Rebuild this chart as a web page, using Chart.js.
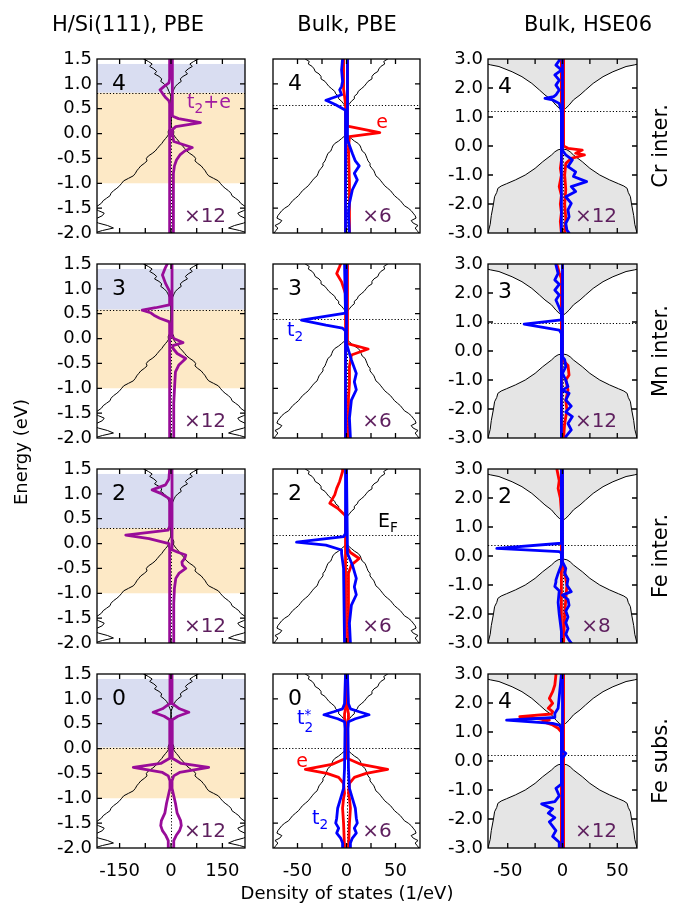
<!DOCTYPE html>
<html>
<head>
<meta charset="utf-8">
<title>DOS</title>
<script src="https://cdn.jsdelivr.net/npm/chart.js@4.4.1/dist/chart.umd.min.js"></script>
<style>
  body { margin: 0; background: #fff; }
  #fig { position: relative; width: 682px; height: 911px; overflow: hidden; font-family: 'DejaVu Sans', sans-serif; color: #000; }
  #fig canvas { position: absolute; }
  .t { position: absolute; white-space: nowrap; line-height: 1; transform: translate(-50%, -50%); }
  .rot { transform: translate(-50%, -50%) rotate(-90deg); }
  .t sub { font-size: 0.72em; vertical-align: -0.35em; }
  .ss { display: inline-block; vertical-align: -0.55em; font-size: 0.72em; line-height: 0.9; text-align: left; }
  .ss span { display: block; }
</style>
</head>
<body>
<div id="fig"></div>
<script>
// pairs are [energy (eV), DOS (1/eV)]; left side of a panel = spin down
var hostSi = [[-2.0,225],[-1.95,200],[-1.9,168],[-1.85,185],[-1.8,212],[-1.75,228],[-1.7,215],[-1.65,200],[-1.6,195],[-1.55,212],[-1.5,225],[-1.45,213],[-1.4,203],[-1.35,198],[-1.3,188],[-1.25,178],[-1.2,175],[-1.15,168],[-1.1,158],[-1.05,150],[-1.0,144],[-0.95,138],[-0.9,124],[-0.85,110],[-0.8,104],[-0.75,100],[-0.7,94],[-0.65,88],[-0.6,78],[-0.55,70],[-0.5,72],[-0.45,66],[-0.4,55],[-0.35,46],[-0.3,40],[-0.25,34],[-0.2,27],[-0.15,22],[-0.1,16],[-0.05,10],[0.0,6],[0.05,8],[0.1,4],[0.15,0],
  [0.75,0],[0.8,3],[0.85,6],[0.9,9],[0.95,13],[1.0,20],[1.05,30],[1.1,27],[1.15,35],[1.2,48],[1.25,42],[1.3,50],[1.35,62],[1.4,55],[1.45,66],[1.5,80]];
var hostPbe = [[-2.0,74],[-1.95,72],[-1.9,70],[-1.85,73],[-1.8,68],[-1.75,66],[-1.7,71],[-1.65,70],[-1.6,68],[-1.55,66],[-1.5,63],[-1.45,59],[-1.4,57],[-1.35,55],[-1.3,52],[-1.25,49],[-1.2,47],[-1.15,45],[-1.1,42],[-1.05,39],[-1.0,37],[-0.95,35],[-0.9,33],[-0.85,30],[-0.8,29],[-0.75,28],[-0.7,26],[-0.65,24],[-0.6,24],[-0.55,22],[-0.5,21],[-0.45,20],[-0.4,19],[-0.35,16],[-0.3,15],[-0.25,14],[-0.2,12],[-0.15,8],[-0.1,5],[-0.05,2],[0.0,0],
  [0.5,0],[0.55,1],[0.6,3],[0.65,5],[0.7,8],[0.75,8],[0.8,11],[0.85,12],[0.9,15],[0.95,18],[1.0,20],[1.05,22],[1.1,26],[1.15,26],[1.2,28],[1.25,32],[1.3,33],[1.35,35],[1.4,39],[1.45,38],[1.5,42]];
var hostHse = [[-3.0,68],[-2.7,66],[-2.4,65],[-2.0,63],[-1.75,62],[-1.6,60],[-1.46,59],[-1.38,56],[-1.3,51],[-1.17,43],[-1.0,34],[-0.77,25],[-0.54,18],[-0.31,10],[-0.2,7],[-0.13,4],[-0.1,0],
  [1.22,0],[1.3,3],[1.41,6],[1.59,10],[1.76,16],[1.93,21],[2.16,28],[2.39,37],[2.56,46],[2.74,58],[2.8,66],[2.86,72],[3.0,75]];

// H/Si(111), PBE (x12)
var siCrUp = [[-2.0,6],[-1.2,6],[-0.8,8],[-0.65,10],[-0.53,16],[-0.43,26],[-0.35,40],[-0.28,62],[-0.22,35],[-0.16,8],[-0.05,5],[0.08,4],[0.14,14],[0.22,86],[0.3,22],[0.35,5],[0.5,4],[1.5,4]];
var siCrDn = [[-2.0,4],[0.6,4],[0.66,6],[0.72,15],[0.8,24],[0.88,32],[0.95,20],[1.02,6],[1.1,4],[1.5,4]];
var siMnUp = [[-2.0,7],[-1.3,8],[-0.9,11],[-0.67,13],[-0.53,23],[-0.4,43],[-0.3,18],[-0.2,6],[-0.14,5],[-0.08,35],[0.0,8],[0.05,3],[1.5,3]];
var siMnDn = [[-2.0,4],[0.3,4],[0.34,6],[0.41,33],[0.47,50],[0.52,60],[0.57,84],[0.62,45],[0.68,5],[0.8,4],[0.95,4],[1.11,16],[1.28,25],[1.4,18],[1.5,11]];
var siFeUp = [[-2.0,7],[-1.2,8],[-0.9,10],[-0.7,14],[-0.6,23],[-0.5,43],[-0.43,33],[-0.37,32],[-0.3,40],[-0.23,43],[-0.17,18],[-0.13,5],[-0.05,3],[1.5,3]];
var siFeDn = [[-2.0,4],[-0.1,4],[0.0,6],[0.1,64],[0.17,132],[0.27,8],[0.35,4],[0.9,4],[1.01,30],[1.08,55],[1.18,16],[1.3,6],[1.5,4]];
var siSub = [[-2.0,6],[-1.85,8],[-1.75,15],[-1.65,25],[-1.55,30],[-1.45,28],[-1.3,18],[-1.1,13],[-0.95,8],[-0.8,3],[-0.65,3],[-0.55,8],[-0.48,25],[-0.38,110],[-0.3,30],[-0.2,5],[0.0,3],[0.5,3],[0.58,5],[0.65,20],[0.73,52],[0.8,25],[0.9,5],[1.0,3],[1.5,3]];

// Bulk, PBE (x6)
var pbeCrEUp = [[-2.0,3],[-1.0,3],[-0.3,2],[-0.06,3],[0.02,34],[0.15,1],[1.5,1]];
var pbeCrEDn = [[-2.0,1],[0.6,1],[0.9,3],[1.5,3]];
var pbeCrT2Up = [[-2.0,3],[-1.6,2],[-1.4,3],[-1.13,6],[-0.93,11],[-0.8,8],[-0.65,13],[-0.55,9],[-0.4,6],[-0.13,1],[1.5,1]];
var pbeCrT2Dn = [[-2.0,1],[0.47,1],[0.58,11],[0.67,21],[0.78,5],[0.88,7],[0.95,5],[1.05,4],[1.28,5],[1.5,4]];
var pbeMnEUp = [[-2.0,2],[-1.2,2],[-0.9,3],[-0.56,3],[-0.33,5],[-0.21,22],[-0.1,1],[1.5,1]];
var pbeMnEDn = [[-2.0,1],[0.9,1],[1.14,5],[1.31,10],[1.45,7],[1.5,6]];
var pbeMnT2Up = [[-2.0,4],[-1.6,3],[-1.24,5],[-1.03,10],[-0.87,8],[-0.7,10],[-0.43,5],[-0.1,0],[1.5,0]];
var pbeMnT2Dn = [[-2.0,1],[0.15,1],[0.21,4],[0.27,21],[0.37,46],[0.51,1],[1.5,2]];
var pbeFeEUp = [[-2.0,2],[-1.0,2],[-0.6,2],[-0.43,5],[-0.3,13],[-0.18,4],[-0.06,0],[1.5,0]];
var pbeFeEDn = [[-2.0,1],[0.55,1],[0.58,2],[0.71,9],[0.81,17],[0.98,12],[1.11,10],[1.25,7],[1.45,4],[1.5,4]];
var pbeFeT2Up = [[-2.0,4],[-1.6,3],[-1.24,5],[-1.03,10],[-0.87,8],[-0.7,10],[-0.43,6],[-0.2,1],[1.5,0]];
var pbeFeT2Dn = [[-2.0,2],[-0.5,3],[-0.2,5],[-0.13,5],[-0.03,21],[0.03,51],[0.14,3],[0.2,1],[1.5,1]];
var pbeSubE = [[-2.0,2],[-1.5,3],[-1.2,4],[-1.0,3],[-0.9,2],[-0.7,3],[-0.58,8],[-0.5,20],[-0.42,42],[-0.32,15],[-0.2,1],[0.5,1],[0.62,2],[0.7,2],[0.8,1],[1.5,1]];
var pbeSubT2 = [[-2.0,4],[-1.9,4],[-1.8,6],[-1.7,10],[-1.6,8],[-1.5,11],[-1.4,10],[-1.2,9],[-1.0,6],[-0.8,3],[-0.4,2],[0.4,1.5],[0.54,2],[0.6,9],[0.68,23],[0.74,13],[0.8,4],[0.9,2],[1.5,1]];

// Bulk, HSE06 (x12, x8)
var hseCrT2Up = [[-3.0,6],[-2.9,4],[-2.67,3],[-2.44,6],[-2.2,5],[-1.98,8],[-1.75,3],[-1.57,12],[-1.4,8],[-1.23,22],[-1.05,10],[-0.89,12],[-0.71,5],[-0.48,9],[-0.31,3],[-0.15,0],[3.0,0]];
var hseCrT2Dn = [[-3.0,1],[1.2,1],[1.47,3],[1.59,9],[1.64,16],[1.7,8],[1.76,6],[1.93,3],[2.1,6],[2.27,3],[2.45,7],[2.62,1],[2.79,6],[2.95,3],[3.0,3]];
var hseCrEUp = [[-3.0,2],[-2.5,3],[-2.0,2],[-1.5,3],[-1.0,2],[-0.6,3],[-0.43,8],[-0.31,20],[-0.25,12],[-0.14,18],[-0.08,5],[0.0,1],[3.0,1]];
var hseCrEDn = [[-3.0,1],[-2.6,2],[-2.3,1],[-2.0,2],[-1.7,1],[-1.4,3],[-1.0,1],[-0.77,2],[-0.5,1],[3.0,1]];
var hseMnT2Up = [[-3.0,3],[-2.95,3],[-2.72,8],[-2.5,5],[-2.26,9],[-2.1,3],[-1.9,8],[-1.69,3],[-1.46,6],[-1.35,0],[-1.23,5],[-1.0,3],[-0.77,0],[-0.54,3],[-0.3,2],[-0.2,0],[3.0,0]];
var hseMnT2Dn = [[-3.0,1],[0.6,1],[0.72,3],[0.93,35],[1.07,1],[1.3,1],[1.5,3],[1.76,6],[1.93,3],[2.1,7],[2.3,3],[2.45,7],[2.68,4],[2.97,6],[3.0,6]];
var hseMnEUp = [[-3.0,1],[-2.5,2],[-2.05,4],[-1.7,3],[-1.35,5],[-1.0,3],[-0.83,6],[-0.5,5],[-0.3,0],[3.0,0]];
var hseMnEDn = [[-3.0,1],[2.5,1],[2.7,3],[2.97,5],[3.0,5]];
var hseFeT2Up = [[-3.0,8],[-2.9,6],[-2.7,3],[-2.5,5],[-2.3,3],[-2.1,5],[-1.9,3],[-1.7,6],[-1.5,5],[-1.35,0],[-1.23,8],[-1.0,4],[-0.8,5],[-0.6,2],[-0.43,3],[-0.2,0],[3.0,0]];
var hseFeT2Dn = [[-3.0,1],[-2.6,1],[-2.0,3],[-1.6,4],[-1.2,3],[-1.05,7],[-0.9,6],[-0.83,6],[-0.6,4],[-0.3,1],[0.1,1],[0.15,3],[0.26,60],[0.44,1],[3.0,1]];
var hseFeEUp = [[-3.0,1],[-2.0,2],[-1.5,3],[-1.0,4],[-0.8,3],[-0.5,2],[-0.3,0],[3.0,0]];
var hseFeEDn = [[-3.0,1],[1.5,1],[2.0,2],[2.33,4],[2.6,3],[2.97,5],[3.0,5]];
var hseSubT2Up = [[-3.0,0],[0.1,0],[0.26,3],[0.35,0],[3.0,0]];
var hseSubT2Dn = [[-3.0,3],[-2.8,3],[-2.6,9],[-2.4,6],[-2.1,12],[-1.95,7],[-1.8,13],[-1.65,9],[-1.48,19],[-1.4,7],[-1.2,3],[-0.94,6],[-0.8,1],[1.13,1],[1.24,3],[1.3,9],[1.41,51],[1.5,7],[1.64,7],[1.82,4],[2.2,3],[3.0,1]];
var hseSubEUp = [[-3.0,1],[3.0,1]];
var hseSubEDn = [[-3.0,1],[1.0,1],[1.13,4],[1.24,9],[1.36,18],[1.41,12],[1.53,39],[1.62,10],[1.7,9],[1.82,13],[1.99,9],[2.16,12],[2.39,9],[2.62,7],[2.97,6],[3.0,6]];

// Fermi levels per row, shaded band limits in the H/Si column
var efSi = [0.82, 0.58, 0.31, 0.02];
var efPbe = [0.57, 0.39, 0.18, 0.02];
var efHse = [1.2, 0.95, 0.38, 0.22];
var bandTop = 1.4, bandBottom = -1.0;

var charges = [[4, 4, 4], [3, 3, 3], [2, 2, 2], [0, 0, 4]];
var factors = [[12, 6, 12], [12, 6, 12], [12, 6, 8], [12, 6, 12]];
var rowNames = ['Cr inter.', 'Mn inter.', 'Fe inter.', 'Fe subs.'];
var colTitles = ['H/Si(111), PBE', 'Bulk, PBE', 'Bulk, HSE06'];
var xTicks = [[-150, -75, 0, 75, 150], [-50, -25, 0, 25, 50], [-50, -25, 0, 25, 50]];
var xTickLabels = [[-150, 0, 150], [-50, 0, 50], [-50, 0, 50]];
var yTicks = [[-2, -1.5, -1, -0.5, 0, 0.5, 1, 1.5], [-2, -1.5, -1, -0.5, 0, 0.5, 1, 1.5], [-3, -2, -1, 0, 1, 2, 3]];
var xRange = [[-216, 216], [-75, 75], [-68, 68]];
var yRange = [[-2, 1.5], [-2, 1.5], [-3, 3]];

var siRows = [[siCrUp, siCrDn], [siMnUp, siMnDn], [siFeUp, siFeDn], [siSub, siSub]];
var pbeRows = [[pbeCrT2Up, pbeCrT2Dn, pbeCrEUp, pbeCrEDn], [pbeMnT2Up, pbeMnT2Dn, pbeMnEUp, pbeMnEDn],
  [pbeFeT2Up, pbeFeT2Dn, pbeFeEUp, pbeFeEDn], [pbeSubT2, pbeSubT2, pbeSubE, pbeSubE]];
var hseRows = [[hseCrT2Up, hseCrT2Dn, hseCrEUp, hseCrEDn], [hseMnT2Up, hseMnT2Dn, hseMnEUp, hseMnEDn],
  [hseFeT2Up, hseFeT2Dn, hseFeEUp, hseFeEDn], [hseSubT2Up, hseSubT2Dn, hseSubEUp, hseSubEDn]];

var PURPLE = '#990c99', RED = '#ff0000', BLUE = '#0000ff', DARKP = '#5e1f5e';
var colLeft = [97, 273, 488], colW = [148, 147, 149];
var rowTop = [59, 264, 469, 674], rowH = 174;
var fig = document.getElementById('fig');

Chart.defaults.font.family = "'DejaVu Sans', sans-serif";
Chart.defaults.color = '#000';

function pts(arr, s) {
  return arr.map(function (p) { return {x: s * p[1], y: p[0]}; });
}
function ln(arr, s, color, w) {
  return {data: pts(arr, s), borderColor: color, borderWidth: w || 2.8, pointRadius: 0, fill: false,
    borderJoinStyle: 'round', borderCapStyle: 'round'};
}

// shaded bands, Fermi level, zero line, frame and inward ticks
var decor = {
  id: 'decor',
  beforeDatasetsDraw: function (chart, args, o) {
    var ctx = chart.ctx, a = chart.chartArea, sx = chart.scales.x, sy = chart.scales.y;
    ctx.save();
    if (o.bands) {
      var yT = sy.getPixelForValue(bandTop), yE = sy.getPixelForValue(o.ef), yB = sy.getPixelForValue(bandBottom);
      ctx.fillStyle = '#d9ddf1';
      ctx.fillRect(a.left, yT, a.right - a.left, yE - yT);
      ctx.fillStyle = '#fde9c6';
      ctx.fillRect(a.left, yE, a.right - a.left, yB - yE);
    }
    ctx.strokeStyle = '#000';
    ctx.lineWidth = 1;
    ctx.setLineDash([1.2, 2]);
    var ye = Math.round(sy.getPixelForValue(o.ef)) + 0.5;
    ctx.beginPath(); ctx.moveTo(a.left, ye); ctx.lineTo(a.right, ye); ctx.stroke();
    var x0 = Math.round(sx.getPixelForValue(0)) + 0.5;
    ctx.beginPath(); ctx.moveTo(x0, a.top); ctx.lineTo(x0, a.bottom); ctx.stroke();
    ctx.restore();
  },
  afterDraw: function (chart) {
    var ctx = chart.ctx, a = chart.chartArea, sx = chart.scales.x, sy = chart.scales.y, L = 5;
    ctx.save();
    ctx.strokeStyle = '#000';
    ctx.lineWidth = 1.3;
    ctx.beginPath();
    sy.ticks.forEach(function (t) {
      if (t.value <= sy.min || t.value >= sy.max) return;
      var y = sy.getPixelForValue(t.value);
      ctx.moveTo(a.left, y); ctx.lineTo(a.left + L, y);
      ctx.moveTo(a.right, y); ctx.lineTo(a.right - L, y);
    });
    sx.ticks.forEach(function (t) {
      if (t.value <= sx.min || t.value >= sx.max) return;
      var x = sx.getPixelForValue(t.value);
      ctx.moveTo(x, a.bottom); ctx.lineTo(x, a.bottom - L);
      ctx.moveTo(x, a.top); ctx.lineTo(x, a.top + L);
    });
    ctx.stroke();
    ctx.strokeRect(a.left, a.top, a.right - a.left, a.bottom - a.top);
    ctx.restore();
  }
};

function makePanel(r, c) {
  var ML = c === 1 ? 3 : 52, MT = 13, MR = 3, MB = r === 3 ? 40 : 13;
  var w = colW[c] + ML + MR, h = rowH + MT + MB;
  var cv = document.createElement('canvas');
  cv.width = w; cv.height = h;
  cv.style.left = (colLeft[c] - ML) + 'px';
  cv.style.top = (rowTop[r] - MT) + 'px';
  cv.style.width = w + 'px'; cv.style.height = h + 'px';
  fig.appendChild(cv);

  var sets, ef;
  if (c === 0) {
    var s = siRows[r];
    sets = [ln(s[0], 1, PURPLE), ln(s[1], -1, PURPLE), ln(hostSi, 1, '#000', 1), ln(hostSi, -1, '#000', 1)];
    ef = efSi[r];
  } else {
    var q = c === 1 ? pbeRows[r] : hseRows[r];
    var host = c === 1 ? hostPbe : hostHse;
    var hp = ln(host, 1, '#000', 1);
    if (c === 2) { hp.fill = '+1'; hp.backgroundColor = '#e5e5e5'; }
    sets = [ln(q[0], 1, BLUE), ln(q[1], -1, BLUE), ln(q[2], 1, RED), ln(q[3], -1, RED), hp, ln(host, -1, '#000', 1)];
    ef = c === 1 ? efPbe[r] : efHse[r];
  }

  new Chart(cv, {
    type: 'line',
    data: {datasets: sets},
    plugins: [decor],
    options: {
      animation: false,
      responsive: false,
      devicePixelRatio: 1,
      indexAxis: 'y',
      events: [],
      layout: {padding: {top: MT, right: MR, left: 0, bottom: 0}},
      plugins: {
        legend: {display: false},
        tooltip: {enabled: false},
        filler: {drawTime: 'beforeDatasetsDraw'},
        decor: {bands: c === 0, ef: ef}
      },
      scales: {
        x: {
          type: 'linear', position: 'bottom', min: xRange[c][0], max: xRange[c][1], bounds: 'data',
          grid: {display: false, drawTicks: false}, border: {display: false},
          afterBuildTicks: function (sc) { sc.ticks = xTicks[c].map(function (v) { return {value: v}; }); },
          ticks: {
            display: r === 3, autoSkip: false, maxRotation: 0, padding: 13,
            font: {size: 18},
            callback: function (v) { return xTickLabels[c].indexOf(v) >= 0 ? String(v) : ''; }
          },
          afterFit: function (sc) { sc.height = MB; sc.paddingLeft = 0; sc.paddingRight = 0; sc.paddingTop = 0; sc.paddingBottom = 0; }
        },
        y: {
          type: 'linear', position: 'left', min: yRange[c][0], max: yRange[c][1], bounds: 'data',
          grid: {display: false, drawTicks: false}, border: {display: false},
          afterBuildTicks: function (sc) { sc.ticks = yTicks[c].map(function (v) { return {value: v}; }); },
          ticks: {
            display: c !== 1, autoSkip: false, padding: 5,
            font: {size: 18},
            callback: function (v) { return v.toFixed(1); }
          },
          afterFit: function (sc) { sc.width = ML; sc.paddingLeft = 0; sc.paddingRight = 0; sc.paddingTop = 0; sc.paddingBottom = 0; }
        }
      }
    }
  });
}

function label(html, x, y, size, color, cls) {
  var d = document.createElement('div');
  d.className = 't' + (cls ? ' ' + cls : '');
  d.innerHTML = html;
  d.style.left = x + 'px';
  d.style.top = y + 'px';
  d.style.fontSize = size + 'px';
  if (color) d.style.color = color;
  fig.appendChild(d);
}

for (var r = 0; r < 4; r++) {
  for (var c = 0; c < 3; c++) {
    makePanel(r, c);
    var off = c === 2 ? [17, 27] : [22, 24];
    label(String(charges[r][c]), colLeft[c] + off[0], rowTop[r] + off[1], 22);
    label('&times;' + factors[r][c], colLeft[c] + (c === 1 ? 104 : 108), rowTop[r] + 156, 20, DARKP);
  }
  label(rowNames[r], 660, rowTop[r] + rowH / 2, 21, null, 'rot');
}

var titleX = [128, 347, 588];
colTitles.forEach(function (t, i) { label(t, titleX[i], 24, 21); });
label('Energy (eV)', 21, 452, 18, null, 'rot');
label('Density of states (1/eV)', 347, 893, 18);

label('t<sub>2</sub>+e', 209, 104, 19, '#a01aa0');
label('e', 382, 121, 19, RED);
label('t<sub>2</sub>', 295, 332, 19, BLUE);
label('E<sub>F</sub>', 388, 523, 19);
label('t<span class="ss"><span>*</span><span>2</span></span>', 305, 720, 19, BLUE);
label('e', 302, 760, 19, RED);
label('t<sub>2</sub>', 320, 820, 19, BLUE);
</script>
</body>
</html>
